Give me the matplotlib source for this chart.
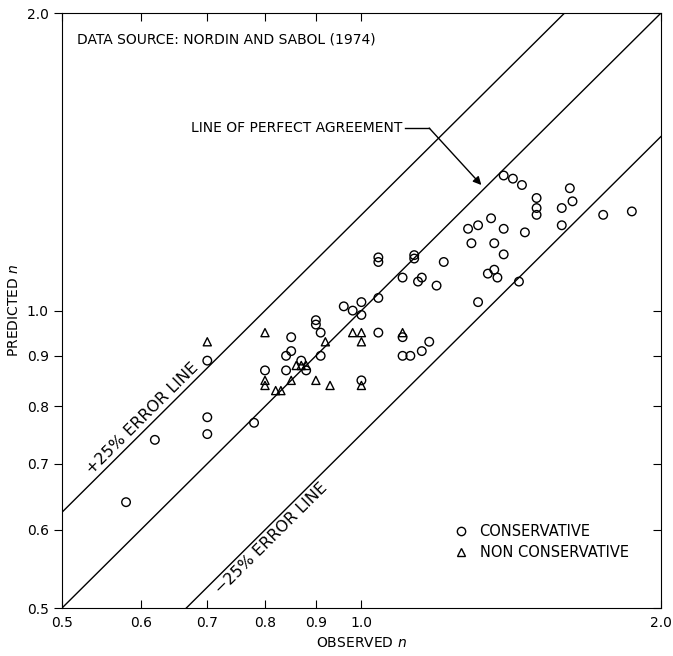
import matplotlib
matplotlib.use("Agg")
import matplotlib.pyplot as plt
import numpy as np
from matplotlib.lines import Line2D

# ── Data ──
obs_cons = [0.58, 0.62, 0.70, 0.70, 0.70, 0.78, 0.80, 0.84, 0.84, 0.85,
            0.85, 0.87, 0.88, 0.90, 0.90, 0.91, 0.91, 0.96, 0.98, 1.00,
            1.00, 1.00, 1.04, 1.04, 1.04, 1.04, 1.10, 1.10, 1.10, 1.12,
            1.13, 1.13, 1.14, 1.15, 1.15, 1.17, 1.19, 1.21, 1.28, 1.29,
            1.31, 1.31, 1.34, 1.35, 1.36, 1.36, 1.37, 1.39, 1.39, 1.39,
            1.42, 1.44, 1.45, 1.46, 1.50, 1.50, 1.50, 1.59, 1.59, 1.62,
            1.63, 1.75, 1.87]
pred_cons = [0.64, 0.74, 0.89, 0.78, 0.75, 0.77, 0.87, 0.90, 0.87, 0.94,
             0.91, 0.89, 0.87, 0.978, 0.968, 0.95, 0.90, 1.01, 1.00, 1.02,
             0.99, 0.85, 1.132, 1.12, 1.03, 0.95, 1.08, 0.94, 0.90, 0.90,
             1.138, 1.129, 1.07, 1.08, 0.91, 0.93, 1.06, 1.12, 1.21, 1.17,
             1.22, 1.02, 1.09, 1.24, 1.17, 1.10, 1.08, 1.37, 1.21, 1.14,
             1.36, 1.07, 1.34, 1.20, 1.30, 1.27, 1.25, 1.27, 1.22, 1.33,
             1.29, 1.25, 1.26]

obs_noncons = [0.70, 0.80, 0.80, 0.80, 0.82, 0.83, 0.85, 0.86, 0.87, 0.88,
               0.90, 0.92, 0.93, 0.98, 1.00, 1.00, 1.00, 1.10]
pred_noncons = [0.93, 0.95, 0.85, 0.84, 0.83, 0.83, 0.85, 0.88, 0.88, 0.88,
                0.85, 0.93, 0.84, 0.95, 0.95, 0.93, 0.84, 0.95]

ticks = [0.5, 0.6, 0.7, 0.8, 0.9, 1.0, 2.0]
tick_labels = ["0.5", "0.6", "0.7", "0.8", "0.9", "1.0", "2.0"]
error_factors = [1.25, 1.0, 0.75]

plt.rcParams["font.family"] = "DejaVu Sans"

fig = plt.figure(figsize=(6.73, 6.56), dpi=100)
ax = fig.add_axes([0.092, 0.073, 0.890, 0.907])

# reference lines
xl = np.array([0.5, 2.0])
for f in error_factors:
    ax.plot(xl, f * xl, color="black", lw=1.0)

ax.scatter(obs_cons, pred_cons, s=38, marker="o", facecolors="none",
           edgecolors="black", linewidths=1.0, zorder=3)
ax.scatter(obs_noncons, pred_noncons, s=34, marker="^", facecolors="none",
           edgecolors="black", linewidths=1.0, zorder=3)

ax.set_xscale("log")
ax.set_yscale("log")
ax.set_xlim(0.5, 2.0)
ax.set_ylim(0.5, 2.0)
ax.minorticks_off()
ax.set_xticks(ticks)
ax.set_xticklabels(tick_labels, fontsize=10)
ax.set_yticks(ticks)
ax.set_yticklabels(tick_labels, fontsize=10)
ax.tick_params(axis="x", direction="in", top=True, length=6, pad=6)
ax.tick_params(axis="y", direction="out", length=6)
ax.tick_params(axis="y", which="both", right=True)
for t in ax.yaxis.get_ticklines()[1::2]:
    t.set_marker(matplotlib.lines.TICKLEFT)

ax.set_xlabel("OBSERVED $n$", fontsize=10, labelpad=4)
ax.set_ylabel("PREDICTED $n$", fontsize=10, labelpad=4)

# ── Annotations ──
ax.text(0.025, 0.955, "DATA SOURCE: NORDIN AND SABOL (1974)",
        transform=ax.transAxes, fontsize=10, va="center", ha="left")

ax.text(1.10, 1.53, "LINE OF PERFECT AGREEMENT", fontsize=10,
        ha="right", va="center")
ax.plot([1.105, 1.17], [1.53, 1.53], color="black", lw=1.0)
ax.annotate("", xy=(1.32, 1.34), xytext=(1.17, 1.53),
            arrowprops=dict(arrowstyle="-|>", color="black", lw=1.0,
                            mutation_scale=12, shrinkA=0, shrinkB=0))

ax.text(0.603, 0.777, "+25% ERROR LINE", fontsize=11.5, rotation=44.8,
        ha="center", va="center", rotation_mode="anchor")
ax.text(0.812, 0.588, "\u221225% ERROR LINE", fontsize=11.5, rotation=44.8,
        ha="center", va="center", rotation_mode="anchor")

handles = [
    Line2D([], [], marker="o", ls="none", mfc="none", mec="black", ms=6),
    Line2D([], [], marker="^", ls="none", mfc="none", mec="black", ms=6),
]
ax.legend(handles, ["CONSERVATIVE", "NON CONSERVATIVE"], loc="lower right",
          bbox_to_anchor=(0.968, 0.058), frameon=False, fontsize=10.5,
          handletextpad=0.3, labelspacing=0.45)

plt.savefig("out.png", dpi=100)
